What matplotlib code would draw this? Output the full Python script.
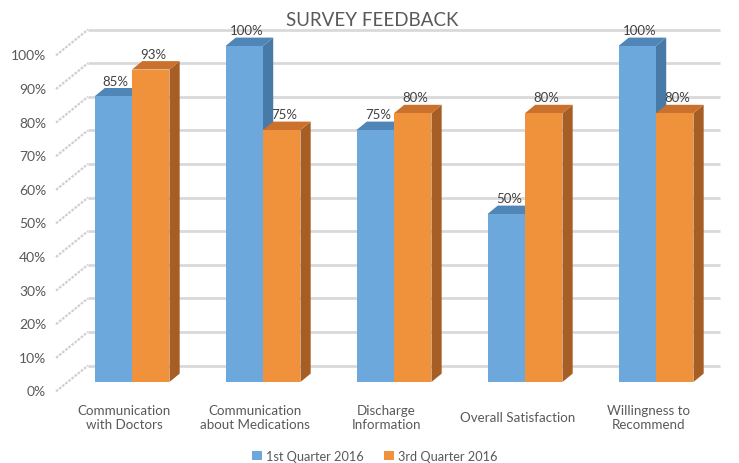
import matplotlib
matplotlib.use("Agg")
import matplotlib.pyplot as plt
from matplotlib.patches import Polygon, Patch

# ---- data ----
categories = ["Communication\nwith Doctors", "Communication\nabout Medications",
              "Discharge\nInformation", "Overall Satisfaction", "Willingness to\nRecommend"]
series_names = ["1st Quarter 2016", "3rd Quarter 2016"]
q1_values = [85, 100, 75, 50, 100]
q3_values = [93, 75, 80, 80, 80]
y_ticks = [0, 10, 20, 30, 40, 50, 60, 70, 80, 90, 100]
title = "SURVEY FEEDBACK"

# ---- style ----
FONT = ["Lato", "DejaVu Sans"]
plt.rcParams['font.family'] = FONT
TEXT = "#595959"
front_cols = ["#6CA8DB", "#F0913C"]
top_cols = ["#5086B7", "#C9712D"]
side_cols = ["#477AA6", "#A65E24"]
GRID = "#d9d9d9"

W, H = 739, 464
fig = plt.figure(figsize=(W / 100, H / 100), dpi=100)
# axes mapping: x = category index, y = percent
x0, x1 = -0.8, 4.6
y0, y1 = -12, 112
px_per_x = 131.0
px_per_y = 3.36
left_px = 132 + x0 * px_per_x
right_px = 132 + x1 * px_per_x
bot_px = 383 - y0 * px_per_y
top_px = 383 - y1 * px_per_y
ax = fig.add_axes([left_px / W, 1 - bot_px / H, (right_px - left_px) / W, (bot_px - top_px) / H])
ax.set_xlim(x0, x1)
ax.set_ylim(y0, y1)
ax.axis("off")

bw = 0.286           # bar width (category units)
ddx = 0.078          # bar depth offset x
ddy = 2.5            # bar depth offset y
wall_dy = 4.9        # back wall offset
front_dy = -2.8      # front plane offset (labels)
wall_x0, wall_x1 = -0.336, 4.49
side_x0 = -0.58

# back wall gridlines + side wall diagonals
for t in y_ticks:
    ax.plot([wall_x0, wall_x1], [t + wall_dy, t + wall_dy], color=GRID, lw=2.0, zorder=0,
            solid_capstyle="butt")
    ax.plot([side_x0, wall_x0], [t + front_dy, t + wall_dy], color="#d0d0d0", lw=1.6,
            zorder=0, linestyle=(0, (1.2, 0.6)))
    ax.text(-0.656, t + front_dy, f"{t}%", ha="right", va="center", fontsize=10, color=TEXT)

# bars
for i in range(len(categories)):
    for s, vals in enumerate([q1_values, q3_values]):
        v = vals[i]
        xl = i - bw if s == 0 else i
        xr = xl + bw
        z = 2 + 3 * i + s
        side = Polygon([(xr, 0), (xr + ddx, ddy), (xr + ddx, v + ddy), (xr, v)],
                       closed=True, facecolor=side_cols[s], edgecolor="none", zorder=z)
        top = Polygon([(xl, v), (xr, v), (xr + ddx, v + ddy), (xl + ddx, v + ddy)],
                      closed=True, facecolor=top_cols[s], edgecolor="none", zorder=z)
        ax.add_patch(side)
        ax.add_patch(top)
        ax.bar(xl, v, width=bw, align="edge", color=front_cols[s], edgecolor="none", zorder=z)
        ax.text(xl + bw / 2 + ddx * 0.25, v + ddy + 0.4, f"{v}%", ha="center", va="bottom",
                fontsize=9.5, color="#404040", zorder=20)

# category labels
for i, c in enumerate(categories):
    ax.text(i - 0.06, -10.4, c, ha="center", va="center", fontsize=9.6, color=TEXT,
            linespacing=1.28)

fig.text(372 / W, 1 - 20 / H, title, ha="center", va="center", fontsize=13.5, color=TEXT)

handles = [Patch(facecolor=front_cols[k], edgecolor="none") for k in range(2)]
fig.legend(handles, series_names, loc="center", bbox_to_anchor=(375 / W, 1 - 457 / H), ncol=2,
           frameon=False, fontsize=9.2, handlelength=0.75, handleheight=0.75, handletextpad=0.35,
           columnspacing=1.6, labelcolor=TEXT)

fig.savefig("out.png", dpi=100)
